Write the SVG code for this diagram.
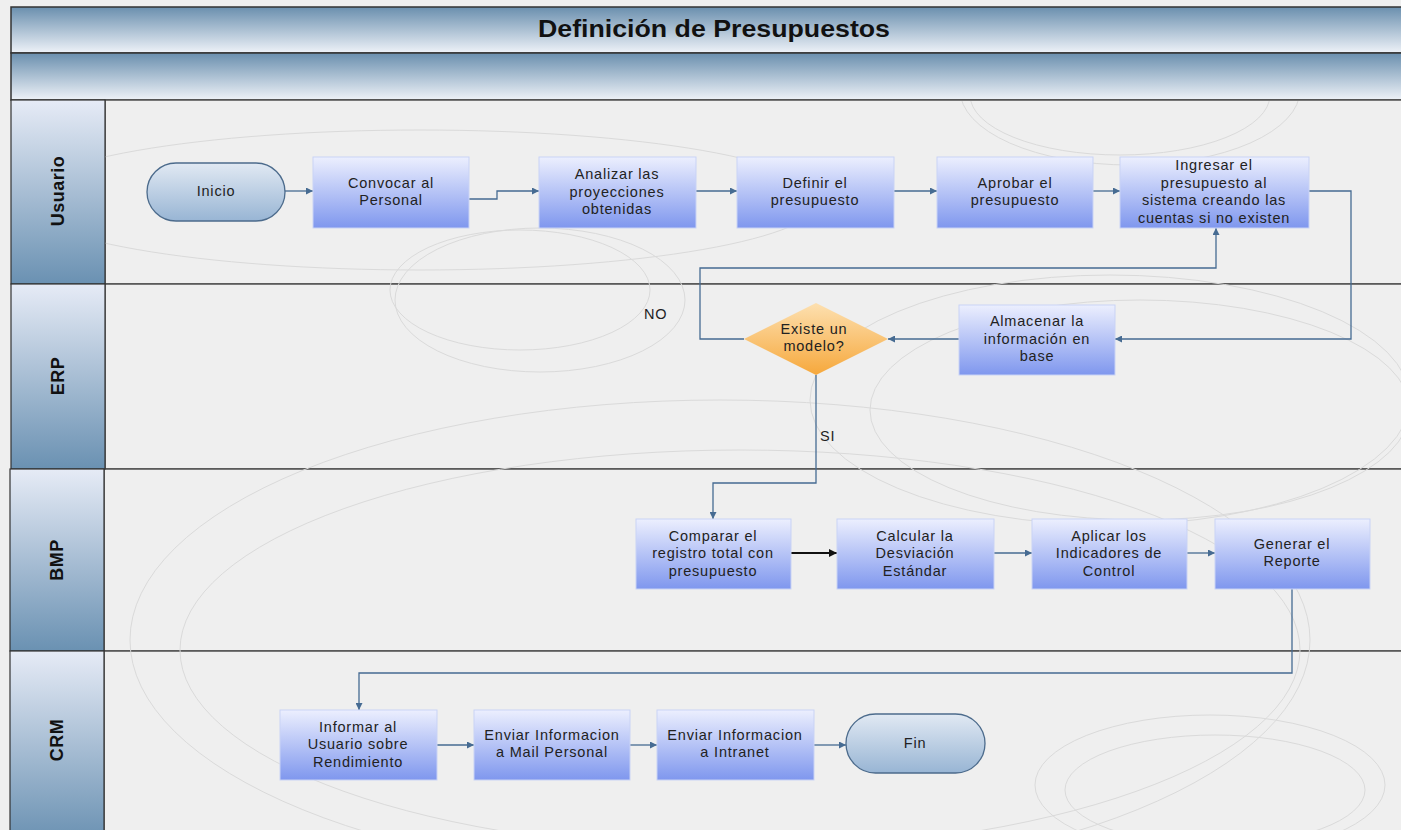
<svg xmlns="http://www.w3.org/2000/svg" width="1401" height="830" viewBox="0 0 1401 830">
  <defs>
    <linearGradient id="band" x1="0" y1="0" x2="0" y2="1">
      <stop offset="0" stop-color="#6a8fae"/>
      <stop offset="1" stop-color="#eef2f8"/>
    </linearGradient>
    <linearGradient id="laneHead" x1="0" y1="0" x2="0" y2="1">
      <stop offset="0" stop-color="#e6ebf6"/>
      <stop offset="1" stop-color="#6a91b2"/>
    </linearGradient>
    <linearGradient id="proc" x1="0" y1="0" x2="0" y2="1">
      <stop offset="0" stop-color="#eceffe"/>
      <stop offset="1" stop-color="#7f97ee"/>
    </linearGradient>
    <linearGradient id="term" x1="0" y1="0" x2="0" y2="1">
      <stop offset="0" stop-color="#e1e9f3"/>
      <stop offset="1" stop-color="#98b5d4"/>
    </linearGradient>
    <linearGradient id="dec" x1="0" y1="0" x2="0" y2="1">
      <stop offset="0" stop-color="#fde0b0"/>
      <stop offset="1" stop-color="#f6a83c"/>
    </linearGradient>
    <marker id="arr" viewBox="0 0 10 10" refX="10" refY="5" markerWidth="10" markerHeight="7" markerUnits="userSpaceOnUse" orient="auto">
      <path d="M0,0 L10,5 L0,10 z" fill="#466b92"/>
    </marker>
    <marker id="arrK" viewBox="0 0 10 10" refX="10" refY="5" markerWidth="11" markerHeight="8" markerUnits="userSpaceOnUse" orient="auto">
      <path d="M0,0 L10,5 L0,10 z" fill="#111"/>
    </marker>
    <!-- ornaments only show inside the lane area -->
    <clipPath id="body">
      <rect x="105" y="101" width="1296" height="729"/>
    </clipPath>
  </defs>
  <style>
    .lane { fill: #efefef; stroke: #505050; stroke-width: 1.5; }
    .head { fill: url(#laneHead); stroke: #333; stroke-width: 1.2; }
    .hlabel { font-family: "Liberation Sans", Arial, sans-serif; font-size: 18px; font-weight: bold; fill: #111; text-anchor: middle; letter-spacing: 0.5px; }
    .proc { fill: url(#proc); stroke: #c9d3f5; stroke-width: 1; }
    .term { fill: url(#term); stroke: #4c6b8c; stroke-width: 1.3; }
    .t { font-family: "Liberation Sans", Arial, sans-serif; font-size: 14.5px; letter-spacing: 0.8px; fill: #222; text-anchor: middle; }
    .lbl { font-family: "Liberation Sans", Arial, sans-serif; font-size: 14.5px; letter-spacing: 0.8px; fill: #222; }
    .c { fill: none; stroke: #466b92; stroke-width: 1.3; marker-end: url(#arr); }
    .deco { fill: none; stroke: #dadada; stroke-width: 1; }
  </style>

  <!-- page background -->
  <rect x="0" y="0" width="1401" height="830" fill="#efefef"/>

  <!-- header bands -->
  <rect x="11" y="7" width="1400" height="46" fill="url(#band)" stroke="#333" stroke-width="1.5"/>
  <rect x="11" y="53" width="1400" height="47" fill="url(#band)" stroke="#333" stroke-width="1.5"/>
  <text x="714" y="37" font-family="'Liberation Sans', Arial, sans-serif" font-size="23" font-weight="bold" fill="#111" text-anchor="middle" textLength="352" lengthAdjust="spacingAndGlyphs">Definición de Presupuestos</text>

  <!-- lane bodies -->
  <rect class="lane" x="105" y="100" width="1310" height="184"/>
  <rect class="lane" x="105" y="284" width="1310" height="185"/>
  <rect class="lane" x="104" y="469" width="1310" height="182"/>
  <rect class="lane" x="104" y="651" width="1310" height="190"/>

  <!-- background ornament curves -->
  <g class="deco" clip-path="url(#body)">
    <ellipse cx="1120" cy="95" rx="150" ry="60"/>
    <ellipse cx="1130" cy="90" rx="170" ry="75"/>
    <ellipse cx="1110" cy="400" rx="300" ry="125"/>
    <ellipse cx="1140" cy="410" rx="270" ry="110"/>
    <ellipse cx="520" cy="290" rx="130" ry="60"/>
    <ellipse cx="540" cy="300" rx="145" ry="72"/>
    <ellipse cx="720" cy="640" rx="590" ry="240"/>
    <ellipse cx="740" cy="650" rx="560" ry="200"/>
    <ellipse cx="1210" cy="785" rx="175" ry="70"/>
    <ellipse cx="1215" cy="790" rx="150" ry="55"/>
    <ellipse cx="420" cy="200" rx="400" ry="70"/>
  </g>

  <!-- lane headers -->
  <g id="lane-usuario">
    <rect class="head" x="11" y="100" width="94" height="184"/>
    <text class="hlabel" transform="translate(64,191) rotate(-90)">Usuario</text>
  </g>
  <g id="lane-erp">
    <rect class="head" x="11" y="284" width="94" height="185"/>
    <text class="hlabel" transform="translate(64,376) rotate(-90)">ERP</text>
  </g>
  <g id="lane-bmp">
    <rect class="head" x="10" y="469" width="94" height="182"/>
    <text class="hlabel" transform="translate(63,560) rotate(-90)">BMP</text>
  </g>
  <g id="lane-crm">
    <rect class="head" x="10" y="651" width="94" height="190"/>
    <text class="hlabel" transform="translate(63,740) rotate(-90)">CRM</text>
  </g>

  <!-- connectors -->
  <g id="connectors">
    <path class="c" d="M285,191 H313"/>
    <path class="c" d="M469,199 H497 V191 H539"/>
    <path class="c" d="M696,191 H737"/>
    <path class="c" d="M894,191 H937"/>
    <path class="c" d="M1093,191 H1120"/>
    <path class="c" d="M1309,191 H1351 V339 H1115"/>
    <path class="c" d="M959,339 H888"/>
    <path class="c" d="M744,339 H700 V268 H1216 V228"/>
    <path class="c" d="M816,375 V483 H713 V519"/>
    <path d="M791,553 H837" fill="none" stroke="#111" stroke-width="2" marker-end="url(#arrK)"/>
    <path class="c" d="M994,553 H1032"/>
    <path class="c" d="M1187,553 H1215"/>
    <path class="c" d="M1292,589 V673 H359 V710"/>
    <path class="c" d="M437,745 H474"/>
    <path class="c" d="M630,745 H657"/>
    <path class="c" d="M814,745 H846"/>
    <text class="lbl" x="644" y="319">NO</text>
    <text class="lbl" x="820" y="441">SI</text>
  </g>

  <!-- Usuario lane nodes -->
  <g id="inicio">
    <rect class="term" x="147" y="163" width="138" height="58" rx="29" ry="29"/>
    <text class="t" x="216" y="196">Inicio</text>
  </g>
  <g id="convocar">
    <rect class="proc" x="313" y="157" width="156" height="71"/>
    <text class="t" x="391" y="188">Convocar al</text>
    <text class="t" x="391" y="205">Personal</text>
  </g>
  <g id="analizar">
    <rect class="proc" x="539" y="157" width="157" height="71"/>
    <text class="t" x="617" y="179">Analizar las</text>
    <text class="t" x="617" y="197">proyecciones</text>
    <text class="t" x="617" y="214">obtenidas</text>
  </g>
  <g id="definir">
    <rect class="proc" x="737" y="157" width="157" height="71"/>
    <text class="t" x="815" y="188">Definir el</text>
    <text class="t" x="815" y="205">presupuesto</text>
  </g>
  <g id="aprobar">
    <rect class="proc" x="937" y="157" width="156" height="71"/>
    <text class="t" x="1015" y="188">Aprobar el</text>
    <text class="t" x="1015" y="205">presupuesto</text>
  </g>
  <g id="ingresar">
    <rect class="proc" x="1120" y="157" width="189" height="71"/>
    <text class="t" x="1214" y="170">Ingresar el</text>
    <text class="t" x="1214" y="188">presupuesto al</text>
    <text class="t" x="1214" y="205">sistema creando las</text>
    <text class="t" x="1214" y="223">cuentas si no existen</text>
  </g>

  <!-- ERP lane nodes -->
  <g id="almacenar">
    <rect class="proc" x="959" y="305" width="156" height="70"/>
    <text class="t" x="1037" y="326">Almacenar la</text>
    <text class="t" x="1037" y="344">información en</text>
    <text class="t" x="1037" y="361">base</text>
  </g>
  <g id="existe-modelo">
    <polygon points="816,303 888,339 816,375 744,339" fill="url(#dec)"/>
    <text class="t" x="814" y="334">Existe un</text>
    <text class="t" x="814" y="351">modelo?</text>
  </g>

  <!-- BMP lane nodes -->
  <g id="comparar">
    <rect class="proc" x="636" y="519" width="155" height="70"/>
    <text class="t" x="713" y="541">Comparar el</text>
    <text class="t" x="713" y="558">registro total con</text>
    <text class="t" x="713" y="576">presupuesto</text>
  </g>
  <g id="calcular">
    <rect class="proc" x="837" y="519" width="157" height="70"/>
    <text class="t" x="915" y="541">Calcular la</text>
    <text class="t" x="915" y="558">Desviación</text>
    <text class="t" x="915" y="576">Estándar</text>
  </g>
  <g id="aplicar">
    <rect class="proc" x="1032" y="519" width="155" height="70"/>
    <text class="t" x="1109" y="541">Aplicar los</text>
    <text class="t" x="1109" y="558">Indicadores de</text>
    <text class="t" x="1109" y="576">Control</text>
  </g>
  <g id="generar">
    <rect class="proc" x="1215" y="519" width="155" height="70"/>
    <text class="t" x="1292" y="549">Generar el</text>
    <text class="t" x="1292" y="566">Reporte</text>
  </g>

  <!-- CRM lane nodes -->
  <g id="informar">
    <rect class="proc" x="280" y="710" width="157" height="70"/>
    <text class="t" x="358" y="732">Informar al</text>
    <text class="t" x="358" y="749">Usuario sobre</text>
    <text class="t" x="358" y="767">Rendimiento</text>
  </g>
  <g id="enviar-mail">
    <rect class="proc" x="474" y="710" width="156" height="70"/>
    <text class="t" x="552" y="740">Enviar Informacion</text>
    <text class="t" x="552" y="757">a Mail Personal</text>
  </g>
  <g id="enviar-intranet">
    <rect class="proc" x="657" y="710" width="157" height="70"/>
    <text class="t" x="735" y="740">Enviar Informacion</text>
    <text class="t" x="735" y="757">a Intranet</text>
  </g>
  <g id="fin">
    <rect class="term" x="846" y="714" width="139" height="59" rx="29.5" ry="29.5"/>
    <text class="t" x="915" y="748">Fin</text>
  </g>
</svg>
